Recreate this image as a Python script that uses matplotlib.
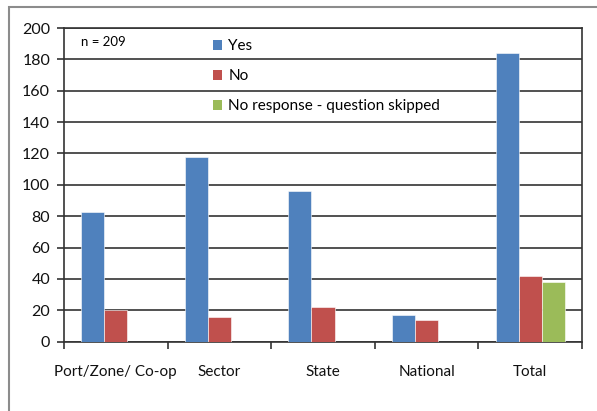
import matplotlib
matplotlib.use("Agg")
import matplotlib.pyplot as plt
from matplotlib.patches import Rectangle, Patch
import numpy as np

plt.rcParams['font.family'] = ['Lato', 'DejaVu Sans']

categories = ["Port/Zone/ Co-op", "Sector", "State", "National", "Total"]
yes_vals = [83, 118, 96, 17, 184]
no_vals = [20, 16, 22, 14, 42]
skipped_vals = [0, 0, 0, 0, 38]
series_names = ["Yes", "No", "No response - question skipped"]
series_colors = ["#4F81BD", "#C0504D", "#9BBB59"]
y_ticks = list(range(0, 201, 20))

fig = plt.figure(figsize=(5.97, 4.11), dpi=100)
fig.patch.set_facecolor("white")

# outer chart frame (extends past the right and bottom edges)
frame = Rectangle((9 / 597, -0.2), 1.2, 1.2 - 7 / 411, transform=fig.transFigure,
                  fill=False, edgecolor="#8c8c8c", linewidth=1.5, clip_on=False)
fig.add_artist(frame)

ax = fig.add_axes([64 / 597, 1 - 341.7 / 411, (582 - 64) / 597, (341.7 - 28) / 411])

x = np.arange(len(categories))
w = 1 / 4.5
series = [yes_vals, no_vals, skipped_vals]
for i, (vals, col) in enumerate(zip(series, series_colors)):
    ax.bar(x + (i - 1) * w, vals, width=w, color=col, edgecolor="#ffffff",
           linewidth=0.4, zorder=3)

ax.set_xlim(-0.5, len(categories) - 0.5)
ax.set_ylim(0, 200)
ax.set_yticks(y_ticks)
ax.set_yticklabels([str(t) for t in y_ticks], fontsize=11.5, color="#111111")
ax.yaxis.grid(True, color="#333333", linewidth=1.2, zorder=0)
ax.set_axisbelow(True)

ax.set_xticks(x)
ax.set_xticklabels(categories, fontsize=11, color="#111111")
ax.tick_params(axis="x", length=0, pad=17)
ax.set_xticks(np.arange(-0.5, len(categories), 1), minor=True)
ax.tick_params(axis="x", which="minor", length=5, width=1.2, color="#333333", direction="out")
ax.tick_params(axis="y", length=5, width=1.2, color="#333333", pad=5)

for s in ax.spines.values():
    s.set_color("#333333")
    s.set_linewidth(1.2)

ax.text(0.033, 0.955, "n = 209", transform=ax.transAxes, fontsize=9.5, va="center", ha="left")

handles = [Patch(facecolor=c, edgecolor="none") for c in series_colors]
leg = ax.legend(handles, series_names, loc="upper left", bbox_to_anchor=(0.2876, 0.964),
                frameon=False, fontsize=11, handlelength=0.6, handleheight=0.6,
                handletextpad=0.4, labelspacing=1.05, borderpad=0, borderaxespad=0)

fig.savefig("out.png", dpi=100)
